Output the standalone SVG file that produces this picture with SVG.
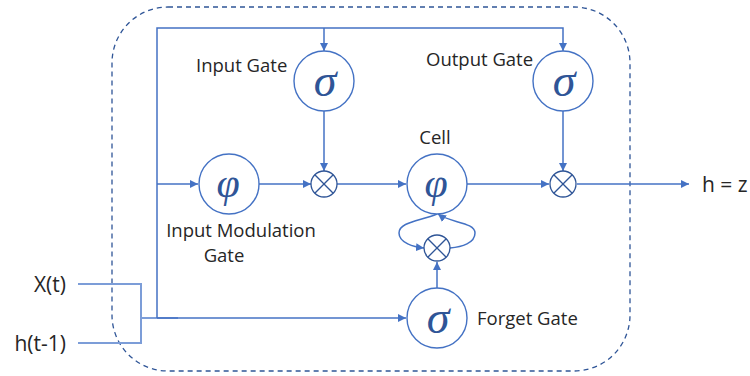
<svg xmlns="http://www.w3.org/2000/svg" width="750" height="376" viewBox="0 0 750 376">
  <defs>
    <marker id="arrow" viewBox="0 0 10 10" refX="10" refY="5" markerWidth="8" markerHeight="8" markerUnits="userSpaceOnUse" orient="auto">
      <path d="M0,0 L10,5 L0,10 z" fill="#4472C4"/>
    </marker>
    <style>
      .wire { fill: none; stroke: #4472C4; stroke-width: 1.5; }
      .feed { fill: none; stroke: #7C9DD8; stroke-width: 2; }
      .unit { fill: #FFFFFF; stroke: #4472C4; stroke-width: 1.4; }
      .mul { fill: #FFFFFF; stroke: #2F5597; stroke-width: 1.3; }
      .cross { stroke: #2F5597; stroke-width: 1.3; }
      .greek { font-family: "Liberation Serif", "DejaVu Serif", serif; font-style: italic; fill: #2F5597; text-anchor: middle; }
      .label { font-family: "Open Sans", "Liberation Sans", sans-serif; font-size: 18.5px; fill: #262626; }
      .io { font-family: "Open Sans", "Liberation Sans", sans-serif; font-size: 21px; fill: #262626; }
    </style>
  </defs>

  <!-- cell boundary -->
  <rect id="boundary" x="112" y="7" width="518" height="364" rx="56" ry="56" fill="none" stroke="#2F5597" stroke-width="1.3" stroke-dasharray="5,4"/>

  <!-- connectors -->
  <g id="connectors">
    <!-- inputs joined -->
    <polyline class="feed" points="78,284 141,284 141,343 78,343"/>
    <line class="feed" x1="141" y1="318" x2="178" y2="318"/>
    <!-- to forget gate -->
    <line class="wire" x1="157" y1="318" x2="406" y2="318" marker-end="url(#arrow)"/>
    <!-- trunk up and across the top -->
    <polyline class="wire" points="157,318 157,28 563,28 563,51" marker-end="url(#arrow)"/>
    <line class="wire" x1="324" y1="28" x2="324" y2="51" marker-end="url(#arrow)"/>
    <!-- to input modulation gate -->
    <line class="wire" x1="157" y1="184" x2="198" y2="184" marker-end="url(#arrow)"/>
    <!-- input modulation -> multiply -->
    <line class="wire" x1="259" y1="184" x2="311" y2="184" marker-end="url(#arrow)"/>
    <!-- input gate -> multiply -->
    <line class="wire" x1="324" y1="111" x2="324" y2="171" marker-end="url(#arrow)"/>
    <!-- multiply -> cell -->
    <line class="wire" x1="337" y1="184" x2="406" y2="184" marker-end="url(#arrow)"/>
    <!-- cell -> output multiply -->
    <line class="wire" x1="467" y1="184" x2="549" y2="184" marker-end="url(#arrow)"/>
    <!-- output gate -> output multiply -->
    <line class="wire" x1="563" y1="111" x2="563" y2="171" marker-end="url(#arrow)"/>
    <!-- output -->
    <line class="wire" x1="577" y1="184" x2="689" y2="184" marker-end="url(#arrow)"/>
    <!-- forget gate -> forget multiply -->
    <line class="wire" x1="437" y1="288" x2="437" y2="262" marker-end="url(#arrow)"/>
    <!-- recurrent loop through the cell -->
    <path class="wire" d="M437,214 C420,221 399,222 399,233 C399,243 414,247 424,248" marker-end="url(#arrow)"/>
    <path class="wire" d="M450,248 C462,247 475,243 475,233 C475,222 450,223 438,214" marker-end="url(#arrow)"/>
  </g>

  <!-- input gate -->
  <g id="input-gate">
    <circle class="unit" cx="324" cy="81" r="30"/>
    <text class="greek" x="325" y="96" font-size="46">σ</text>
    <text class="label" x="196" y="72">Input Gate</text>
  </g>

  <!-- output gate -->
  <g id="output-gate">
    <circle class="unit" cx="563" cy="81" r="30"/>
    <text class="greek" x="564" y="96" font-size="46">σ</text>
    <text class="label" x="426" y="66">Output Gate</text>
  </g>

  <!-- input modulation gate -->
  <g id="input-modulation-gate">
    <circle class="unit" cx="229" cy="184" r="30"/>
    <text class="greek" x="228" y="197" font-size="42">φ</text>
    <text class="label" x="241" y="237" text-anchor="middle">Input Modulation</text>
    <text class="label" x="224" y="262" text-anchor="middle">Gate</text>
  </g>

  <!-- input multiply -->
  <g id="input-multiply">
    <circle class="mul" cx="324" cy="184" r="13"/>
    <line class="cross" x1="314.8" y1="174.8" x2="333.2" y2="193.2"/>
    <line class="cross" x1="333.2" y1="174.8" x2="314.8" y2="193.2"/>
  </g>

  <!-- cell -->
  <g id="cell">
    <circle class="unit" cx="437" cy="184" r="30"/>
    <text class="greek" x="436" y="197" font-size="42">φ</text>
    <text class="label" x="435" y="144" text-anchor="middle">Cell</text>
  </g>

  <!-- output multiply -->
  <g id="output-multiply">
    <circle class="mul" cx="563" cy="184" r="13"/>
    <line class="cross" x1="553.8" y1="174.8" x2="572.2" y2="193.2"/>
    <line class="cross" x1="572.2" y1="174.8" x2="553.8" y2="193.2"/>
  </g>

  <!-- forget multiply -->
  <g id="forget-multiply">
    <circle class="mul" cx="437" cy="248" r="13"/>
    <line class="cross" x1="427.8" y1="238.8" x2="446.2" y2="257.2"/>
    <line class="cross" x1="446.2" y1="238.8" x2="427.8" y2="257.2"/>
  </g>

  <!-- forget gate -->
  <g id="forget-gate">
    <circle class="unit" cx="437" cy="318" r="30"/>
    <text class="greek" x="438" y="333" font-size="46">σ</text>
    <text class="label" x="477" y="325">Forget Gate</text>
  </g>

  <!-- inputs and output -->
  <g id="input-x">
    <text class="io" x="66" y="292" text-anchor="end">X(t)</text>
  </g>
  <g id="input-h">
    <text class="io" x="66" y="351" text-anchor="end">h(t-1)</text>
  </g>
  <g id="output-h">
    <text class="io" x="702" y="192">h = z</text>
  </g>
</svg>
